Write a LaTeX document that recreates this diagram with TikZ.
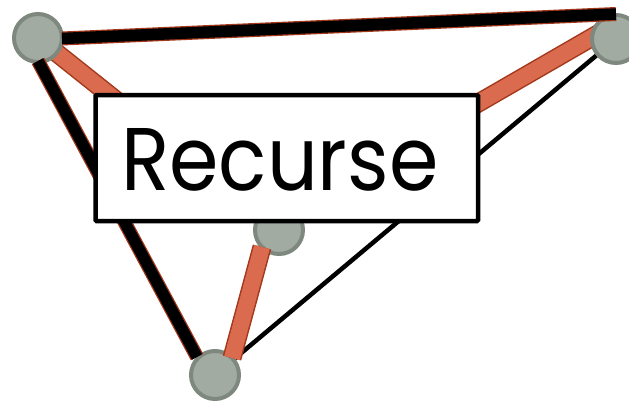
\documentclass[tikz,border=0pt]{standalone}
\usepackage{fontspec}
\setmainfont{Poppins}
\definecolor{nodefill}{HTML}{A2ABA2}
\definecolor{nodeline}{HTML}{7E887E}
\definecolor{barfill}{HTML}{DB6B4F}
\definecolor{barline}{HTML}{A3381B}
\tikzset{
  vertex/.style={circle, fill=nodefill, draw=nodeline, line width=4pt, minimum size=48pt, inner sep=0pt},
  redbar/.style={line width=16pt, draw=barfill, line cap=butt, preaction={draw=barline, line width=19pt, line cap=butt}},
  blackbar/.style={line width=11.5pt, draw=black, line cap=butt, preaction={draw=barline, line width=14pt, line cap=butt}},
  thinline/.style={line width=4.5pt, draw=black},
  labelbox/.style={draw=black, fill=white, line width=4.5pt, minimum width=382.5pt, minimum height=126pt, inner sep=0pt, rounded corners=1pt}
}
\begin{document}
\begin{tikzpicture}[x=1pt,y=-1pt]
\useasboundingbox (0,0) rectangle (629,402);
% positions
\coordinate (pa) at (38,38);
\coordinate (pb) at (616,39);
\coordinate (pc) at (279,230);
\coordinate (pd) at (215,375);
\coordinate (bc1) at (603,31);
\coordinate (bc2) at (300,206);
\coordinate (cd1) at (262,247);
\coordinate (cd2) at (232,358);
\coordinate (top1) at (62,38.5);
\coordinate (top2) at (616,14);
\coordinate (left1) at (38,61);
\coordinate (left2) at (197,357);
% edges behind the vertices
\draw[redbar] (pa) -- (pc);
\draw[redbar] (bc1) -- (bc2);
\draw[thinline] (pb) -- (pd);
% vertices
\node[vertex] (a) at (pa) {};
\node[vertex] (b) at (pb) {};
\node[vertex] (c) at (pc) {};
\node[vertex] (d) at (pd) {};
% edges over the vertices
\draw[redbar] (cd1) -- (cd2);
\draw[blackbar] (top1) -- (top2);
\draw[blackbar] (left1) -- (left2);
% label
\node[labelbox] (box) at (286.75,158) {};
\node[anchor=base west, inner sep=0pt] (label) at (121,190) {\resizebox{317pt}{62pt}{Recurse}};
\end{tikzpicture}
\end{document}
